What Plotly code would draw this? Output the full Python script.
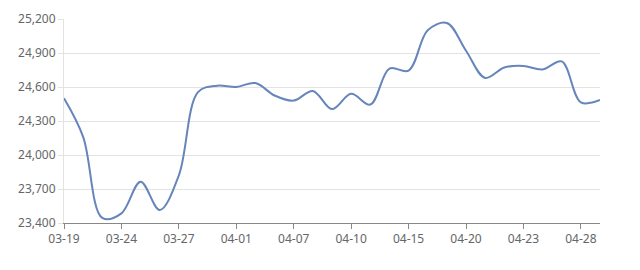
import plotly.graph_objects as go

dates = ["03-19", "03-20", "03-21", "03-24", "03-25", "03-26", "03-27", "03-28", "03-31",
         "04-01", "04-02", "04-03", "04-07", "04-08", "04-09", "04-10", "04-11", "04-14",
         "04-15", "04-16", "04-17", "04-20", "04-21", "04-22", "04-23", "04-24", "04-25",
         "04-28", "04-29"]
prices = [24500, 24160, 23445, 23485, 23765, 23515, 23820, 24555, 24612,
          24600, 24635, 24525, 24480, 24565, 24405, 24540, 24445, 24762,
          24745, 25100, 25165, 24920, 24680, 24772, 24786, 24755, 24826,
          24465, 24485]
tick_labels = dates[::3]
y_ticks = [23400, 23700, 24000, 24300, 24600, 24900, 25200]

fig = go.Figure()
fig.add_trace(go.Scatter(
    x=dates, y=prices, mode="lines",
    line=dict(color="#6685ba", width=2, shape="spline", smoothing=1.0),
    hoverinfo="x+y",
))

fig.update_layout(
    width=640, height=270,
    margin=dict(l=64, r=40, t=10, b=47),
    paper_bgcolor="white", plot_bgcolor="white",
    showlegend=False,
    font=dict(family="Noto Sans, DejaVu Sans, sans-serif", size=12, color="#666666"),
)
fig.update_xaxes(
    type="category", categoryorder="array", categoryarray=dates,
    range=[0, len(dates) - 1],
    tickmode="array", tickvals=tick_labels, ticktext=tick_labels,
    showgrid=False, zeroline=False,
    showline=True, linecolor="#888888", linewidth=1,
    ticks="outside", ticklen=5, tickcolor="#888888",
    tickfont=dict(size=12, color="#666666"),
)
fig.update_yaxes(
    range=[23400, 25200], tickmode="array", tickvals=y_ticks,
    tickformat=",", showgrid=True, gridcolor="#e3e3e3", gridwidth=1,
    zeroline=False, showline=True, linecolor="#e3e3e3", linewidth=1,
    ticks="outside", ticklen=5, tickcolor="#e3e3e3", ticklabelstandoff=0,
    tickfont=dict(size=12, color="#666666"),
)

fig.write_html("out.html")
